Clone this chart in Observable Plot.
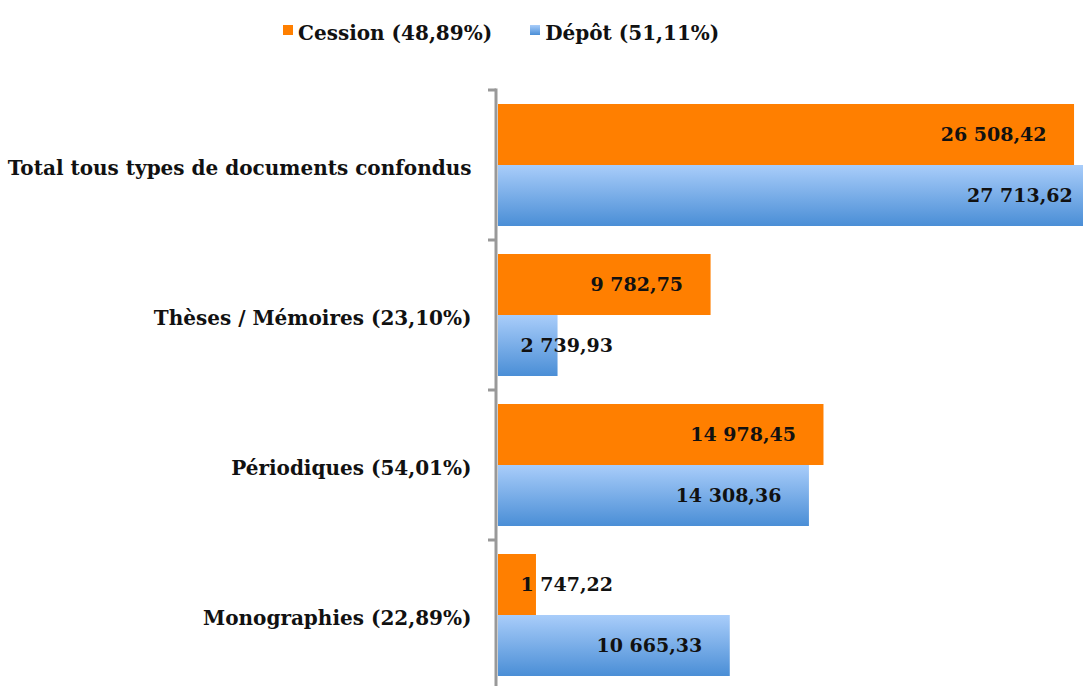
<!DOCTYPE html>
<html><head><meta charset="utf-8">
<script src="https://cdn.jsdelivr.net/npm/d3@7"></script>
<script src="https://cdn.jsdelivr.net/npm/@observablehq/plot@0.6"></script>
<style>
body{margin:0;background:#fff;}
#legend{height:60px;box-sizing:border-box;padding-top:5px;padding-left:283px;font:bold 20px "DejaVu Serif",serif;color:#111;display:flex;align-items:center;}
#legend .item{display:flex;align-items:center;margin-right:38px;height:26px;}
#legend .sw{width:10px;height:10px;margin-right:5px;margin-top:-6px;}
</style></head><body>
<div id="legend"></div><div id="chart"></div>
<script>
const categories = ["Total tous types de documents confondus", "Thèses / Mémoires (23,10%)", "Périodiques (54,01%)", "Monographies (22,89%)"];
const series = ["Cession", "Dépôt"];
const seriesLabels = ["Cession (48,89%)", "Dépôt (51,11%)"];
const cessionValues = [26508.42, 9782.75, 14978.45, 1747.22];
const depotValues = [27713.62, 2739.93, 14308.36, 10665.33];

const ORANGE = "#ff7f00";
const BLUE = "url(#blueGrad)";
const rows = [];
categories.forEach((c, i) => {
  rows.push({category: c, series: series[0], value: cessionValues[i]});
  rows.push({category: c, series: series[1], value: depotValues[i]});
});
const loc = d3.formatLocale({decimal: ",", thousands: " ", grouping: [3], currency: ["", ""]});
const fmt = loc.format(",.2f");
const small = d => d.value < 5000;

// legend
const leg = d3.select("#legend");
seriesLabels.forEach((s, i) => {
  const it = leg.append("div").attr("class", "item");
  it.append("div").attr("class", "sw").style("background", i === 0 ? ORANGE : "linear-gradient(#a9cdfa,#4a8ed6)");
  it.append("span").text(s);
});

const FF = "DejaVu Serif";
const H = 626;
const font = {fontFamily: FF, fontWeight: "bold", fontSize: 19, fill: "#111"};
const plot = Plot.plot({
  width: 1083,
  height: H,
  marginTop: 29,
  marginBottom: 0,
  marginLeft: 498,
  marginRight: 0,
  style: {fontFamily: FF, background: "white"},
  x: {domain: [0, 26921], axis: null},
  y: {domain: series, paddingInner: 0, paddingOuter: 0.22, axis: null},
  fy: {domain: categories, padding: 0, label: null, range: [29, 631]},
  marks: [
    Plot.barX(rows.filter(d => d.series === series[0]), {x: "value", y: "series", fy: "category", fill: ORANGE, clip: true}),
    Plot.barX(rows.filter(d => d.series === series[1]), {x: "value", y: "series", fy: "category", fill: BLUE, clip: true}),
    Plot.text(rows.filter(d => !small(d)), {x: "value", y: "series", fy: "category", text: d => fmt(d.value), textAnchor: "end", dx: -28, ...font}),
    Plot.text(rows.filter(small), {x: 0, y: "series", fy: "category", text: d => fmt(d.value), textAnchor: "start", dx: 22, ...font}),
    Plot.axisFy({anchor: "left", tickSize: 0, tickPadding: 27, dy: 3, fontSize: 20, fontWeight: "bold", fill: "#111", label: null})
  ]
});
document.getElementById("chart").appendChild(plot);

// gradient + category axis line with boundary ticks
const svg = d3.select(plot);
const defs = svg.insert("defs", ":first-child");
const g = defs.append("linearGradient").attr("id", "blueGrad").attr("x1", 0).attr("y1", 0).attr("x2", 0).attr("y2", 1);
g.append("stop").attr("offset", "0%").attr("stop-color", "#a9cdfa");
g.append("stop").attr("offset", "100%").attr("stop-color", "#4a8ed6");
const fy = plot.scale("fy");
const x0 = plot.scale("x").apply(0) - 2;
const bounds = categories.map(c => fy.apply(c));
bounds.push(bounds[bounds.length - 1] + fy.bandwidth);
const ax = svg.append("g").attr("stroke", "#999").attr("stroke-width", 3);
ax.append("line").attr("x1", x0).attr("x2", x0).attr("y1", bounds[0] - 1.5).attr("y2", H);
bounds.forEach(b => ax.append("line").attr("x1", x0 - 8).attr("x2", x0).attr("y1", b).attr("y2", b));
</script>
</body></html>
